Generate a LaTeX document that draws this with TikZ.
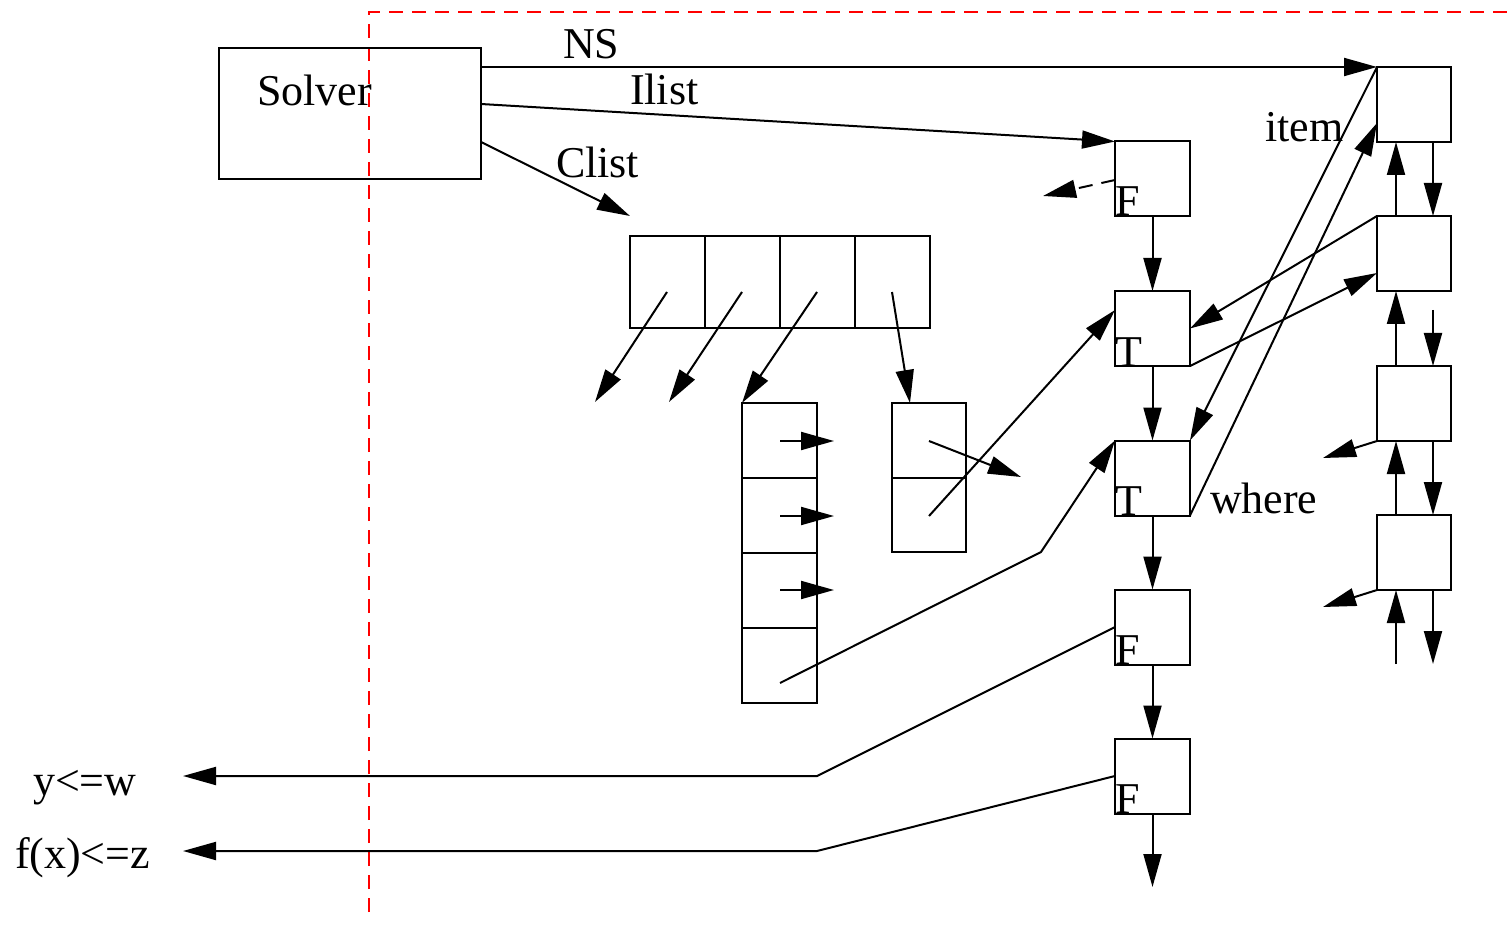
\documentclass[tikz,border=0pt]{standalone}
\usepackage{fontspec}
\setmainfont{Liberation Serif}
\usetikzlibrary{arrows.meta,calc}
\begin{document}
\begin{tikzpicture}[x=1pt,y=-1pt,
  line width=2pt,
  every node/.style={inner sep=0pt,outer sep=0pt},
  box/.style={draw,rectangle,minimum width=75pt,minimum height=75pt},
  arr/.style={-{Triangle[length=33pt,width=18pt]}},
  lbl/.style={anchor=base west,font=\fontsize{44}{50}\selectfont},
  fence/.style={draw=red,line width=1.5pt,dash pattern=on 14pt off 9pt}]
\path[use as bounding box] (0,0) rectangle (1510,925);
% red dashed boundary
\coordinate (fa) at (369,912);
\coordinate (fb) at (369,12);
\coordinate (fc) at (1510,12);
\draw[fence] (fa) -- (fb) -- (fc);
% solver
\node[draw,minimum width=262pt,minimum height=131pt] (solver) at (350,113.5) {};
\node[lbl] (solvert) at (257,106) {Solver};
% array
\foreach \i/\x in {1/667.5,2/742.5,3/817.5,4/892} {
  \node[box,minimum height=92pt] (c\i) at (\x,282) {};
}
% vertical box
\foreach \i/\y in {1/440.5,2/515.5,3/590.5,4/665.5} {
  \node[box] (v\i) at (779.5,\y) {};
}
% small box
\node[box,minimum width=74pt] (s1) at (929,440.5) {};
\node[box,minimum width=74pt,minimum height=74pt] (s2) at (929,515) {};
% middle column
\foreach \i/\y in {1/179,2/328.5,3/478,4/627,5/776} {
  \node[box] (m\i) at (1152.5,\y) {};
}
\node[lbl] (mf1) at (1115,216) {F};
\node[lbl] (mt2) at (1115,366) {T};
\node[lbl] (mt3) at (1115,515) {T};
\node[lbl] (mf4) at (1115,664) {F};
\node[lbl] (mf5) at (1115,813) {F};
% right column
\foreach \i/\y in {1/104.5,2/253.5,3/403.5,4/552.5} {
  \node[box,minimum width=74pt] (r\i) at (1414,\y) {};
}
% labels
\node[lbl] (ns) at (563,59) {NS};
\node[lbl] (ilist) at (630,105) {Ilist};
\node[lbl] (clist) at (556,178) {Clist};
\node[lbl] (item) at (1265,142) {item};
\node[lbl] (where) at (1210,513) {where};
\node[lbl] (yw) at (33,795) {y<=w};
\node[lbl] (fxz) at (15,868) {f(x)<=z};
% coordinates
\coordinate (sNS) at (481,67);
\coordinate (sIl) at (481,104);
\coordinate (sCl) at (481,142);
\coordinate (eCl) at (630,216);
\coordinate (a1) at (667,292); \coordinate (b1) at (595,402);
\coordinate (a2) at (742,292); \coordinate (b2) at (669,402);
\coordinate (a3) at (817,292);
\coordinate (a4) at (892,292); \coordinate (b4) at (910,403);
\coordinate (va1) at (780,441); \coordinate (vb1) at (834,441);
\coordinate (va2) at (780,516); \coordinate (vb2) at (834,516);
\coordinate (va3) at (780,590); \coordinate (vb3) at (834,590);
\coordinate (va4) at (780,683); \coordinate (vk4) at (1041,552);
\coordinate (sa1) at (929,441); \coordinate (sb1) at (1021,477);
\coordinate (sa2) at (929,516); \coordinate (m2w) at (1115,310);
\coordinate (m5e) at (1152.5,887);
\coordinate (da) at (1115,180); \coordinate (db) at (1043,196);
\coordinate (r1w) at (1377,123);
\coordinate (r2w) at (1377,273);
\coordinate (r3e) at (1323,458);
\coordinate (r4e) at (1323,607);
\coordinate (k4) at (817,776); \coordinate (e4) at (183,776);
\coordinate (k5) at (817,851); \coordinate (e5) at (183,851);
% connectors from solver
\draw[arr] (sNS) -- (r1.north west);
\draw[arr] (sIl) -- (m1.north west);
\draw[arr] (sCl) -- (eCl);
% array pointers
\draw[arr] (a1) -- (b1);
\draw[arr] (a2) -- (b2);
\draw[arr] (a3) -- (v1.north west);
\draw[arr] (a4) -- (b4);
\draw[arr] (va1) -- (vb1);
\draw[arr] (va2) -- (vb2);
\draw[arr] (va3) -- (vb3);
\draw[arr] (va4) -- (vk4) -- (m3.north west);
\draw[arr] (sa1) -- (sb1);
\draw[arr] (sa2) -- (m2w);
% middle chain
\draw[arr] (m1.south) -- (m2.north);
\draw[arr] (m2.south) -- (m3.north);
\draw[arr] (m3.south) -- (m4.north);
\draw[arr] (m4.south) -- (m5.north);
\draw[arr] (m5.south) -- (m5e);
\draw[arr,dash pattern=on 14pt off 9pt] (da) -- (db);
% crossings
\draw[arr] (r1.north west) -- (m3.north east);
\draw[arr] (m3.south east) -- (r1w);
\draw[arr] (r2.north west) -- (m2.east);
\draw[arr] (m2.south east) -- (r2w);
% right column
\coordinate (u1) at (1396,216); \coordinate (u1e) at (1396,142);
\coordinate (u2) at (1396,366); \coordinate (u2e) at (1396,291);
\coordinate (u3) at (1396,515); \coordinate (u3e) at (1396,441);
\coordinate (u4) at (1396,664); \coordinate (u4e) at (1396,590);
\coordinate (d1) at (1433,142); \coordinate (d1e) at (1433,216);
\coordinate (d2) at (1433,310); \coordinate (d2e) at (1433,366);
\coordinate (d3) at (1433,441); \coordinate (d3e) at (1433,515);
\coordinate (d4) at (1433,590); \coordinate (d4e) at (1433,664);
\foreach \i in {1,2,3,4} {
  \draw[arr] (u\i) -- (u\i e);
  \draw[arr] (d\i) -- (d\i e);
}
\draw[arr] (r3.south west) -- (r3e);
\draw[arr] (r4.south west) -- (r4e);
% bottom outputs
\draw[arr] (m4.west) -- (k4) -- (e4);
\draw[arr] (m5.west) -- (k5) -- (e5);
\end{tikzpicture}
\end{document}
